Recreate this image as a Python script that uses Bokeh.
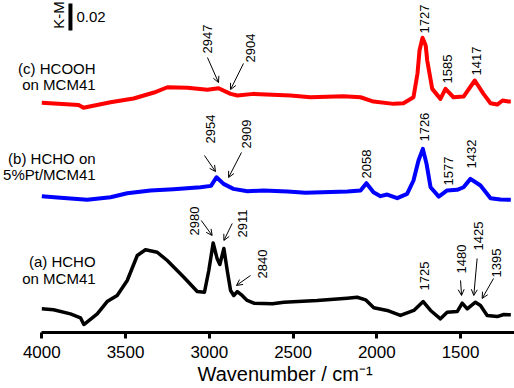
from math import pi
from bokeh.plotting import figure
from bokeh.models import Range1d, FixedTicker, ColumnDataSource, Arrow, OpenHead, Title
from bokeh.core.properties import value
from bokeh.embed import file_html
from bokeh.resources import INLINE

# ---------------- data (K-M, stacked) ----------------
wn_c = [4000, 3780, 3751, 3590, 3452, 3330, 3250, 3130, 3011, 2945, 2873, 2832, 2736, 2515,
        2396, 2199, 2097, 2020, 1900, 1841, 1781, 1757, 1745, 1727, 1708, 1699, 1669, 1620,
        1590, 1542, 1482, 1415, 1363, 1321, 1281, 1249, 1214, 1200]
km_c = [0.1700, 0.1683, 0.1663, 0.1704, 0.1732, 0.1776, 0.1815, 0.1811, 0.1796, 0.1808,
        0.1766, 0.1754, 0.1766, 0.1754, 0.1741, 0.1749, 0.1741, 0.1709, 0.1692, 0.1697,
        0.1741, 0.1917, 0.2087, 0.2181, 0.2124, 0.2013, 0.1803, 0.1729, 0.1803, 0.1741,
        0.1746, 0.1865, 0.1766, 0.1697, 0.1687, 0.1717, 0.1709, 0.1709]

wn_b = [4000, 3888, 3729, 3590, 3490, 3351, 3214, 3053, 2990, 2957, 2915, 2856, 2772, 2676,
        2533, 2426, 2175, 2097, 2062, 2020, 1978, 1938, 1878, 1819, 1781, 1751, 1725, 1703,
        1679, 1630, 1580, 1520, 1482, 1441, 1381, 1321, 1262, 1214, 1200]
km_b = [0.1009, 0.0997, 0.0982, 0.1001, 0.1031, 0.1051, 0.1060, 0.1075, 0.1085, 0.1149,
        0.1100, 0.1063, 0.1046, 0.1051, 0.1043, 0.1034, 0.1043, 0.1051, 0.1105, 0.1038,
        0.1009, 0.1021, 0.0994, 0.1026, 0.1125, 0.1273, 0.1359, 0.1248, 0.1075, 0.1006,
        0.1051, 0.1056, 0.1075, 0.1137, 0.1088, 0.0994, 0.0984, 0.0982, 0.0982]

wn_a = [4000, 3930, 3829, 3769, 3749, 3669, 3610, 3550, 3490, 3430, 3381, 3311, 3251, 3152,
        3072, 3029, 3003, 2977, 2953, 2937, 2913, 2893, 2873, 2854, 2833, 2804, 2774, 2734,
        2623, 2555, 2356, 2177, 2117, 2067, 2018, 1938, 1859, 1779, 1723, 1679, 1620, 1580,
        1520, 1490, 1460, 1411, 1381, 1341, 1281, 1242, 1212, 1200]
km_a = [0.0175, 0.0168, 0.0138, 0.0109, 0.0059, 0.0138, 0.0229, 0.0274, 0.0385, 0.0570,
        0.0612, 0.0594, 0.0533, 0.0409, 0.0303, 0.0298, 0.0459, 0.0662, 0.0545, 0.0503,
        0.0622, 0.0459, 0.0311, 0.0274, 0.0303, 0.0274, 0.0237, 0.0217, 0.0212, 0.0224,
        0.0237, 0.0254, 0.0261, 0.0242, 0.0183, 0.0163, 0.0126, 0.0163, 0.0229, 0.0163,
        0.0101, 0.0150, 0.0155, 0.0217, 0.0175, 0.0224, 0.0200, 0.0126, 0.0118, 0.0133,
        0.0131, 0.0131]

tick_values = [4000, 3500, 3000, 2500, 2000, 1500]
scale_bar_km = 0.02
x_title = "Wavenumber / cm\u207b\u00b9"

names_c = ["(c) HCOOH", "on MCM41"]
names_b = ["(b) HCHO on", "5%Pt/MCM41"]
names_a = ["(a) HCHO", "on MCM41"]

peaks_c = ["2947", "2904", "1727", "1585", "1417"]
peaks_b = ["2954", "2909", "2058", "1726", "1577", "1432"]
peaks_a = ["2980", "2911", "2840", "1725", "1480", "1425", "1395"]

# ---------------- layout of annotations (data coords) ----------------
peak_lx = {"c": [3008, 2754, 1715, 1578, 1405],
           "b": [2993, 2778, 2059, 1715, 1572, 1435],
           "a": [3088, 2799, 2685, 1715, 1494, 1393, 1288]}
peak_ly = {"c": [0.2065, 0.1998, 0.2213, 0.1843, 0.1902],
           "b": [0.1399, 0.1362, 0.1140, 0.1413, 0.1088, 0.1214],
           "a": [0.0718, 0.0703, 0.0400, 0.0311, 0.0437, 0.0607, 0.0407]}

arrows = dict(
    x0=[3011, 2796, 3029, 2808, 3048, 2863, 2754, 1500, 1401, 1303],
    y0=[0.2035, 0.1991, 0.1310, 0.1332, 0.0829, 0.0807, 0.0422, 0.0385, 0.0548, 0.0400],
    x1=[2945, 2873, 2963, 2885, 2983, 2913, 2838, 1494, 1421, 1371],
    y1=[0.1850, 0.1798, 0.1191, 0.1147, 0.0718, 0.0681, 0.0348, 0.0274, 0.0274, 0.0252],
)

FONT = value("Liberation Sans")

p = figure(width=514, height=388, x_range=Range1d(4246.6, 1177.9), y_range=Range1d(0, 0.2457),
           output_backend="svg", toolbar_location=None, y_axis_location=None,
           min_border_left=0, min_border_right=0, min_border_top=0, min_border_bottom=56)
p.outline_line_color = None
p.xgrid.visible = False
p.ygrid.visible = False
p.background_fill_color = "white"
p.border_fill_color = "white"

xa = p.xaxis[0]
xa.ticker = FixedTicker(ticks=tick_values)
xa.bounds = (1178, 4000)
xa.minor_tick_line_color = None
xa.major_tick_in = 0
xa.major_tick_out = 6
xa.axis_line_width = 3
xa.major_tick_line_width = 3
xa.axis_line_color = "black"
xa.major_tick_line_color = "black"
xa.major_label_text_font = "Liberation Sans"
xa.major_label_text_font_size = "17px"
xa.major_label_text_color = "black"
xa.major_label_standoff = 7

# axis title under the axis, placed like the reference
p.add_layout(Title(text=x_title, align="left", offset=197, standoff=0,
                   text_font="Liberation Sans", text_font_size="20px",
                   text_font_style="normal", text_color="black"), "below")

p.line(wn_c, km_c, line_color="#ff0000", line_width=4, line_join="round")
p.line(wn_b, km_b, line_color="#0000ff", line_width=4, line_join="round")
p.line(wn_a, km_a, line_color="#000000", line_width=3.5, line_join="round")

# curve names (right aligned)
name_x = 3679
p.text(x=[name_x] * 6, y=[0.1957, 0.1832, 0.1291, 0.1169, 0.0525, 0.0400],
       text=names_c + names_b + names_a, text_align="right", text_baseline="middle",
       text_font=FONT, text_font_size="15px", text_color="black")

# peak labels (rotated)
for key, labels in (("c", peaks_c), ("b", peaks_b), ("a", peaks_a)):
    p.text(x=peak_lx[key], y=peak_ly[key], text=labels, angle=pi / 2,
           text_align="left", text_baseline="middle", text_font=FONT,
           text_font_size="13px", text_color="black")

p.add_layout(Arrow(end=OpenHead(size=6, line_width=1, line_color="black"),
                   source=ColumnDataSource(arrows), x_start="x0", y_start="y0",
                   x_end="x1", y_end="y1", line_width=1, line_color="black"))

# scale bar
bar_top = 0.2435
p.segment(x0=[3829], y0=[bar_top], x1=[3829], y1=[bar_top - scale_bar_km],
          line_width=4, line_color="black", line_cap="butt")
p.text(x=[3793], y=[0.2338], text=["0.02"], text_align="left",
       text_baseline="middle", text_font=FONT, text_font_size="15px", text_color="black")
p.text(x=[3903], y=[0.2350], text=["K-M"], angle=pi / 2,
       text_align="center", text_baseline="middle", text_font=FONT,
       text_font_size="15px", text_color="black")

open("out.html", "w").write(file_html(p, INLINE))
